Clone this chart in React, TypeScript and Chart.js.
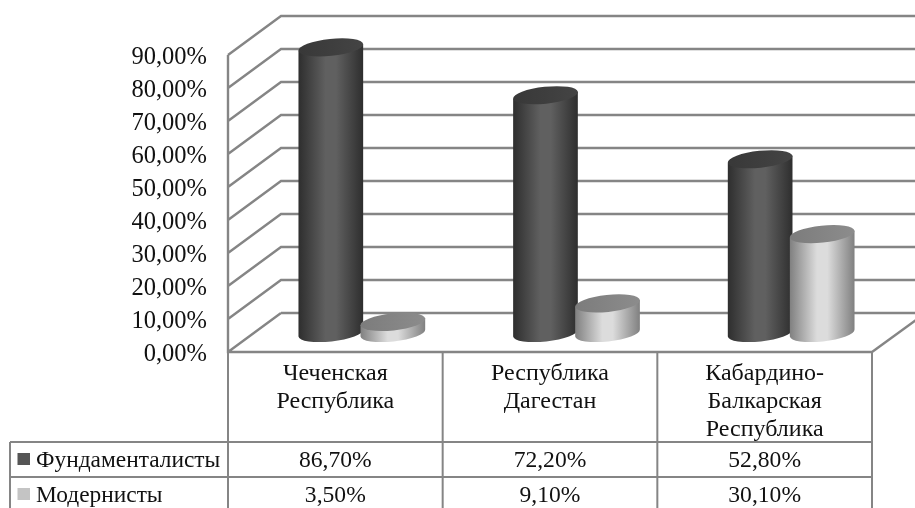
import React, { useEffect, useRef } from "react";
import { Chart, registerables } from "chart.js";

Chart.register(...registerables);

const categories: string[][] = [
  ["Чеченская", "Республика"],
  ["Республика", "Дагестан"],
  ["Кабардино-", "Балкарская", "Республика"],
];
const seriesNames = ["Фундаменталисты", "Модернисты"];
const fundamentalists = [86.7, 72.2, 52.8];
const modernists = [3.5, 9.1, 30.1];
const keyColors = ["#555555", "#c4c4c4"];

const FONT = "'Liberation Serif', 'Times New Roman', serif";
const TEXT = "#111111";
const LINE = "#858585";
const DEPTH = { x: 53, y: -39 };
const WIDTH = 915;

const fmt = (v: number) => v.toFixed(2).replace(".", ",") + "%";

const looks = [
  { edge: "#2e2e2e", mid: "#606060", topA: "#383838", topB: "#444444" },
  { edge: "#808080", mid: "#dcdcdc", topA: "#7c7c7c", topB: "#8c8c8c" },
];

const scene = {
  id: "scene",
  beforeDatasetsDraw(chart: any) {
    const { ctx, chartArea: a, scales } = chart;
    const ys = scales.y;
    ctx.save();
    ctx.strokeStyle = LINE;
    ctx.lineWidth = 2.4;
    ctx.lineCap = "butt";
    ctx.beginPath();
    for (let i = 0; i <= 90; i += 10) {
      const y = ys.getPixelForValue(i);
      ctx.moveTo(a.left, y);
      ctx.lineTo(a.left + DEPTH.x, y + DEPTH.y);
      if (i > 0) ctx.lineTo(WIDTH, y + DEPTH.y);
    }
    const y0 = ys.getPixelForValue(0);
    ctx.moveTo(a.left + DEPTH.x, y0 + DEPTH.y);
    ctx.lineTo(WIDTH, y0 + DEPTH.y);
    ctx.moveTo(a.left, ys.getPixelForValue(90));
    ctx.lineTo(a.left, y0);
    ctx.lineTo(a.right, y0);
    ctx.lineTo(a.right + 44, y0 - 32);
    ctx.stroke();
    ctx.restore();
  },
  afterDatasetsDraw(chart: any) {
    const { ctx } = chart;
    chart.data.datasets.forEach((_: any, ds: number) => {
      const look = looks[ds];
      chart.getDatasetMeta(ds).data.forEach((bar: any) => {
        const cx = bar.x + DEPTH.x / 2;
        const top = bar.y + DEPTH.y / 2 + 1;
        const bottom = bar.base + DEPTH.y / 2 + 0.5;
        const rx = bar.width / 2 + 1.5;
        const ry = 8.5;
        const rot = (-6 * Math.PI) / 180;
        const tx = rx * Math.cos(rot);
        const ty = rx * Math.sin(rot);
        const g = ctx.createLinearGradient(cx - tx, 0, cx + tx, 0);
        g.addColorStop(0, look.edge);
        g.addColorStop(0.42, look.mid);
        g.addColorStop(0.58, look.mid);
        g.addColorStop(1, look.edge);
        ctx.save();
        ctx.fillStyle = g;
        ctx.beginPath();
        ctx.moveTo(cx - tx, top - ty);
        ctx.lineTo(cx - tx, bottom - ty);
        ctx.ellipse(cx, bottom, rx, ry, rot, Math.PI, 0, true);
        ctx.lineTo(cx + tx, top + ty);
        ctx.closePath();
        ctx.fill();
        const t = ctx.createLinearGradient(cx - tx, 0, cx + tx, 0);
        t.addColorStop(0, look.topA);
        t.addColorStop(1, look.topB);
        ctx.fillStyle = t;
        ctx.beginPath();
        ctx.ellipse(cx, top, rx, ry, rot, 0, Math.PI * 2);
        ctx.fill();
        ctx.restore();
      });
    });
  },
  afterDraw(chart: any) {
    const { ctx, chartArea: a, scales } = chart;
    const xs = scales.x;
    const rows = [442, 477];
    const left = 10;
    const bottom = chart.height;
    const w = (a.right - a.left) / categories.length;
    ctx.save();
    ctx.strokeStyle = LINE;
    ctx.lineWidth = 2;
    ctx.beginPath();
    for (let i = 0; i <= categories.length; i++) {
      ctx.moveTo(a.left + i * w, a.bottom);
      ctx.lineTo(a.left + i * w, bottom);
    }
    rows.forEach((y) => {
      ctx.moveTo(left, y);
      ctx.lineTo(a.right, y);
    });
    ctx.moveTo(left, rows[0]);
    ctx.lineTo(left, bottom);
    ctx.stroke();

    ctx.textBaseline = "middle";
    [fundamentalists, modernists].forEach((vals, r) => {
      const y = rows[r] + 18.5;
      ctx.fillStyle = keyColors[r];
      ctx.fillRect(17.5, y - 7.5, 12.5, 12);
      ctx.fillStyle = TEXT;
      ctx.textAlign = "left";
      ctx.font = `23.4px ${FONT}`;
      ctx.fillText(seriesNames[r], 36, y);
      ctx.textAlign = "center";
      ctx.font = `23.6px ${FONT}`;
      vals.forEach((v, i) => ctx.fillText(fmt(v), xs.getPixelForTick(i), y));
    });
    ctx.restore();
  },
};

export default function App() {
  const ref = useRef<HTMLCanvasElement>(null);
  useEffect(() => {
    const chart = new Chart(ref.current!, {
      type: "bar",
      data: {
        labels: categories,
        datasets: [
          { label: seriesNames[0], data: fundamentalists, backgroundColor: "transparent" },
          { label: seriesNames[1], data: modernists, backgroundColor: "transparent" },
        ],
      },
      options: {
        animation: false,
        responsive: false,
        layout: { padding: { top: 55, right: 43, left: 0, bottom: 0 } },
        plugins: { legend: { display: false }, tooltip: { enabled: false }, title: { display: false } },
        datasets: { bar: { barPercentage: 1, categoryPercentage: 0.578 } },
        scales: {
          y: {
            min: 0,
            max: 90,
            border: { display: false },
            grid: { display: false, drawTicks: false },
            ticks: {
              stepSize: 10,
              padding: 21,
              labelOffset: 2.5,
              color: TEXT,
              font: { family: FONT, size: 24.5 },
              callback: (v: any) => fmt(Number(v)),
            },
            afterFit: (s: any) => { s.width = 228; },
          },
          x: {
            border: { display: false },
            grid: { display: false, drawTicks: false },
            ticks: {
              padding: 8,
              color: TEXT,
              maxRotation: 0,
              autoSkip: false,
              font: { family: FONT, size: 24, lineHeight: 1.17 },
            },
            afterFit: (s: any) => { s.height = 156; },
          },
        },
      } as any,
      plugins: [scene],
    });
    return () => chart.destroy();
  }, []);
  return (
    <div style={{ position: "absolute", left: 0, top: 0, width: 915, height: 508, background: "#fff" }}>
      <canvas ref={ref} width={915} height={508} style={{ display: "block", filter: "blur(0.4px)" }} />
    </div>
  );
}
